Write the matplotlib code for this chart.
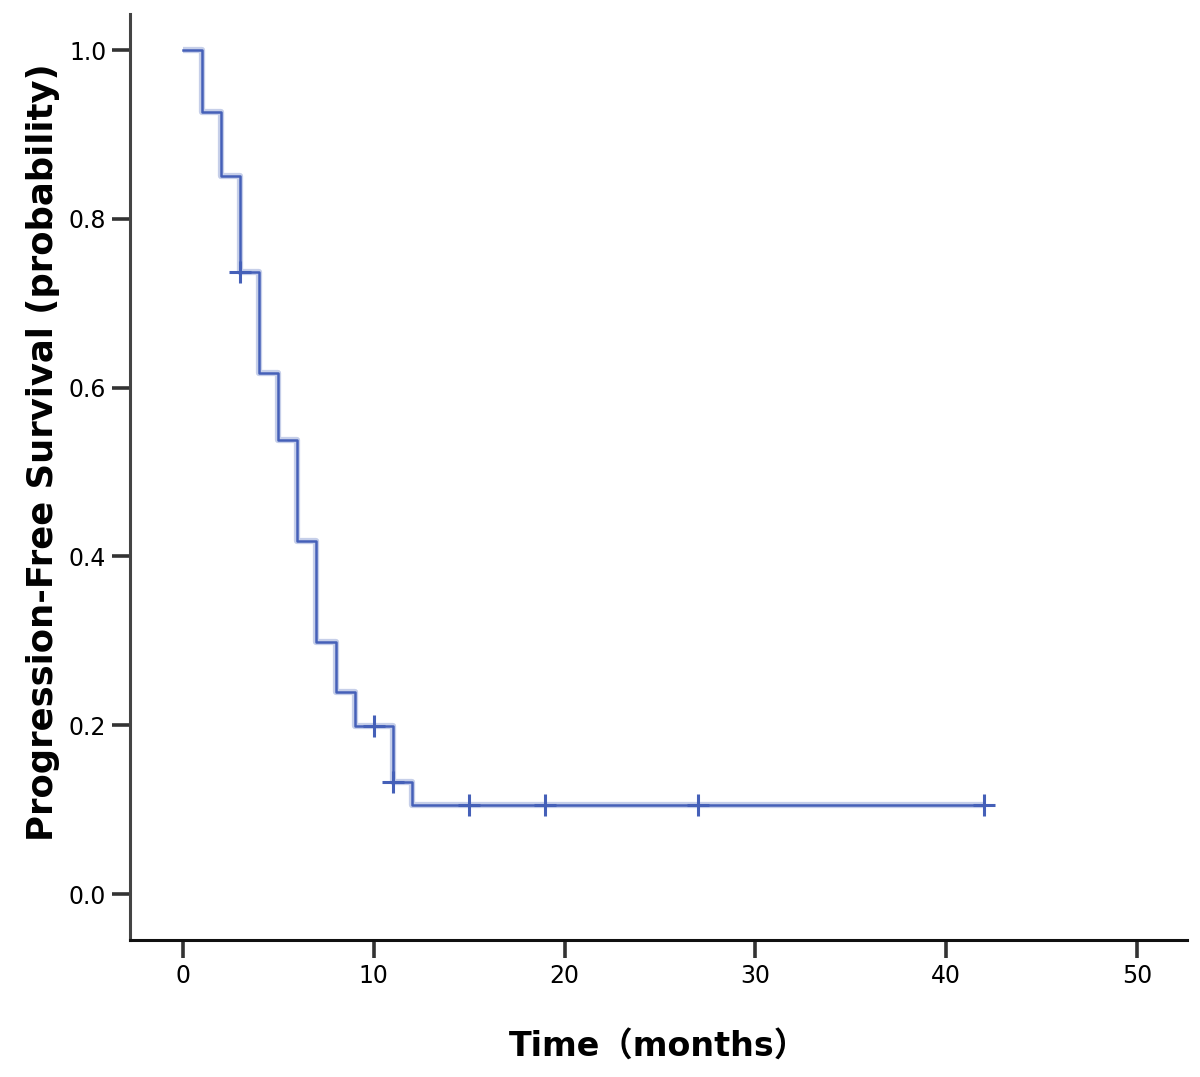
import matplotlib
matplotlib.use("Agg")
import matplotlib.pyplot as plt

# Kaplan-Meier step data
event_times = [0, 1, 2, 3, 4, 5, 6, 7, 8, 9, 11, 12]
survival = [1.0, 0.926, 0.851, 0.737, 0.617, 0.538, 0.418, 0.299, 0.239, 0.199, 0.133, 0.106]
last_time = 42

# censored observations
censor_times = [3, 10, 11, 15, 19, 27, 42]
censor_surv = [0.737, 0.199, 0.133, 0.106, 0.106, 0.106, 0.106]

x_ticks = [0, 10, 20, 30, 40, 50]
y_ticks = [0.0, 0.2, 0.4, 0.6, 0.8, 1.0]

line_color = "#4560b8"

fig = plt.figure(figsize=(12, 10.77), dpi=100)
ax = fig.add_axes([0.1083, 0.1272, 0.8807, 0.8598])

xs = event_times + [last_time]
ys = survival + [survival[-1]]
ax.step(xs, ys, where="post", color=line_color, lw=4.5, alpha=0.3, solid_capstyle="butt")
ax.step(xs, ys, where="post", color=line_color, lw=1.8)
ax.plot(censor_times, censor_surv, linestyle="none", marker="+", markersize=16,
        markeredgewidth=2.2, color=line_color)

ax.set_xlim(-2.77, 52.6)
ax.set_ylim(-0.0545, 1.0427)
ax.set_xticks(x_ticks)
ax.set_xticklabels([str(v) for v in x_ticks])
ax.set_yticks(y_ticks)
ax.set_yticklabels(["%.1f" % v for v in y_ticks])

for side in ["top", "right"]:
    ax.spines[side].set_visible(False)
ax.spines["left"].set_color("#444444")
ax.spines["left"].set_linewidth(2.2)
ax.spines["bottom"].set_color("#111111")
ax.spines["bottom"].set_linewidth(2.2)
ax.tick_params(axis="both", length=13, width=2.6, color="#333333", labelsize=17, pad=4)

ax.set_ylabel("Progression-Free Survival (probability)", fontsize=25.5, fontweight="bold")
ax.yaxis.set_label_coords(-0.066, 0.527)
ax.set_xlabel("Time（months）", fontsize=24, fontweight="bold", labelpad=30,
              family=["DejaVu Sans", "Noto Sans CJK SC"])

fig.savefig("out.png", dpi=100)
